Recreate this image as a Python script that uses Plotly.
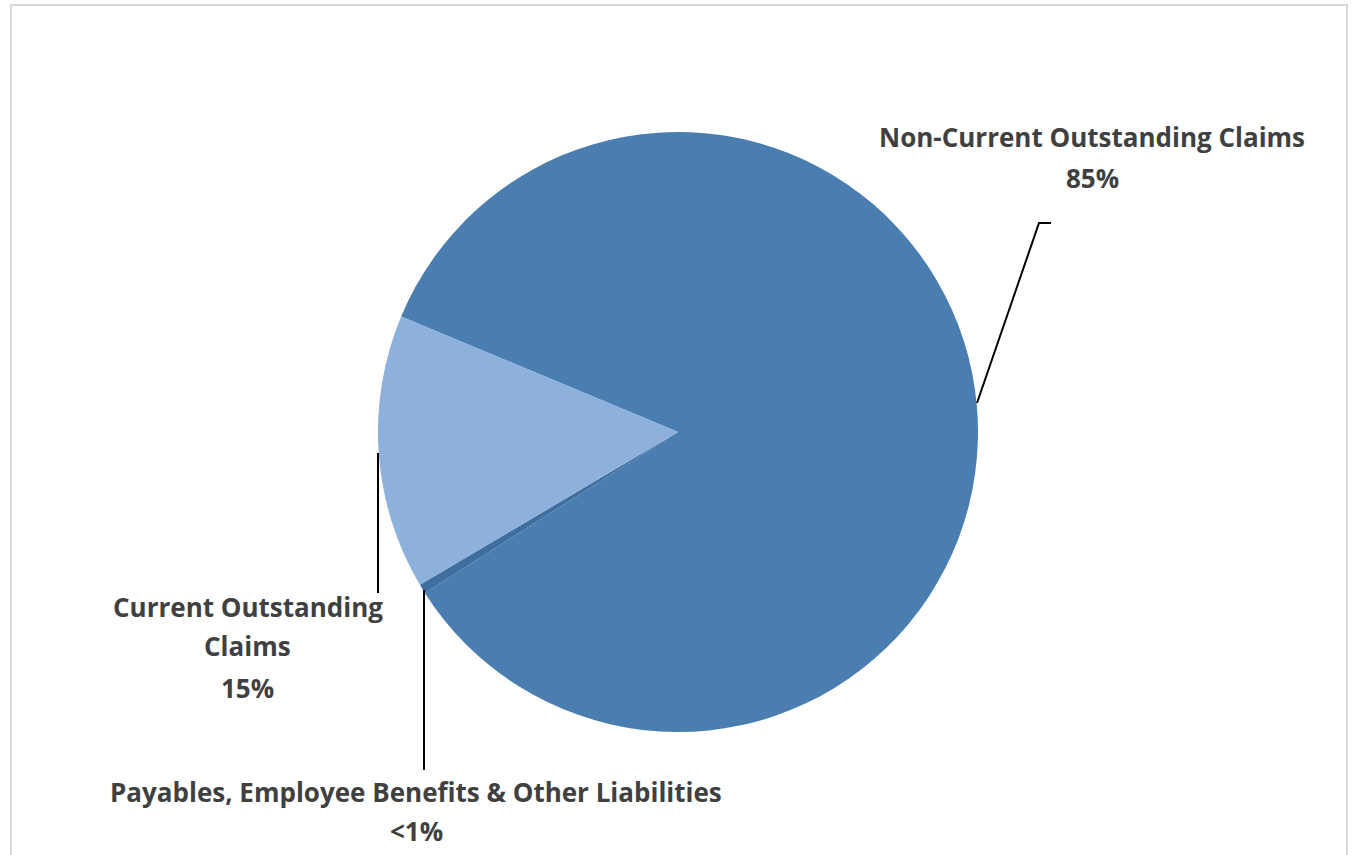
import plotly.graph_objects as go

# Data
labels = ["Non-Current Outstanding Claims", "Payables, Employee Benefits & Other Liabilities", "Current Outstanding Claims"]
values = [84.7, 0.5, 14.8]
pct_text = ["85%", "<1%", "15%"]
colors = ["#4A7EB0", "#3F6F9F", "#8DB1DC"]

W, H = 1354, 855


def px(x):
    return x / W


def py(y):
    return 1 - y / H


cx, cy, r = 678, 432, 300

fig = go.Figure(go.Pie(
    labels=labels,
    values=values,
    sort=False,
    direction="clockwise",
    rotation=-67.35,
    marker=dict(colors=colors, line=dict(color="white", width=0)),
    textinfo="none",
    hoverinfo="label+percent",
    showlegend=False,
    domain=dict(x=[px(cx - r), px(cx + r)], y=[py(cy + r), py(cy - r)]),
))

font = dict(family="'Open Sans', sans-serif", size=26, color="#404040")

label_lines = [
    ("<b>Non-Current Outstanding Claims</b>", 1092, 137),
    ("<b>" + pct_text[0] + "</b>", 1092, 178),
    ("<b>Current Outstanding</b>", 248, 607),
    ("<b>Claims</b>", 248, 646),
    ("<b>" + pct_text[2] + "</b>", 248, 688),
    ("<b>Payables, Employee Benefits &amp; Other Liabilities</b>", 416, 792),
    ("<b>" + pct_text[1] + "</b>", 416, 831),
]
annotations = [
    dict(text=t, x=px(x), y=py(y), xref="paper", yref="paper",
         xanchor="center", yanchor="middle", showarrow=False, font=font)
    for t, x, y in label_lines
]

leaders = [
    [(977, 403), (1039, 223), (1051, 223)],
    [(378, 453), (378, 593)],
    [(424, 590), (424, 770)],
]
shapes = []
for pts in leaders:
    path = "M " + " L ".join(f"{px(x)},{py(y)}" for x, y in pts)
    shapes.append(dict(type="path", path=path, xref="paper", yref="paper",
                       line=dict(color="black", width=2)))

shapes.append(dict(type="rect", xref="paper", yref="paper",
                   x0=px(11), x1=px(1347), y0=py(900), y1=py(5),
                   line=dict(color="#D9D9D9", width=2)))

fig.update_layout(
    width=W, height=H,
    margin=dict(l=0, r=0, t=0, b=0),
    paper_bgcolor="white",
    plot_bgcolor="white",
    annotations=annotations,
    shapes=shapes,
)

fig.write_html("out.html")
